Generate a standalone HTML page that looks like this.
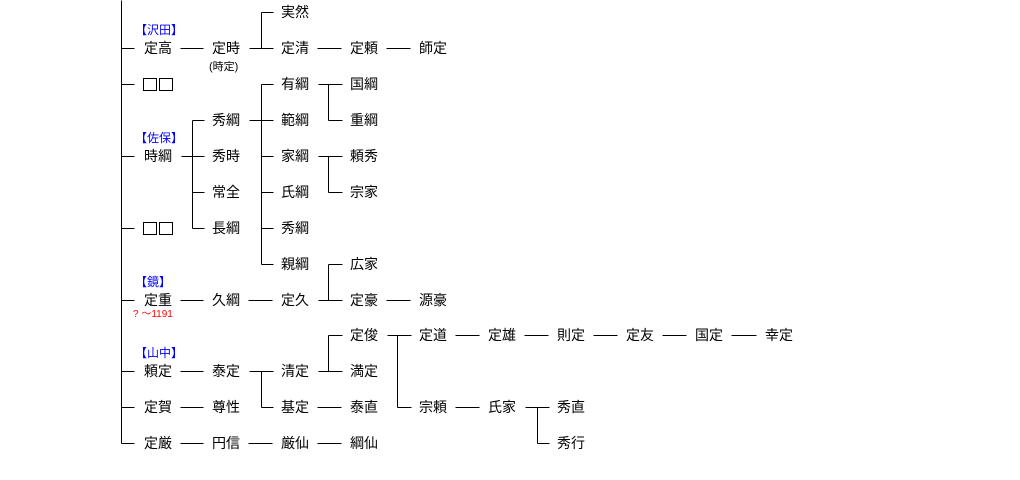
<!DOCTYPE html>
<html><head><meta charset="utf-8"><style>
html,body{margin:0;padding:0;background:#fff;width:1020px;height:480px;overflow:hidden}
svg text{font-family:"Liberation Sans","Noto Sans CJK JP",sans-serif}
</style></head><body>
<svg width="1020" height="480" xmlns="http://www.w3.org/2000/svg">
<g stroke="#000" stroke-width="1" fill="none" shape-rendering="crispEdges" id="lines">
<rect x="143.5" y="78.5" width="13" height="12"/><rect x="159.5" y="78.5" width="13" height="12"/>
<rect x="143.5" y="222.5" width="13" height="12"/><rect x="159.5" y="222.5" width="13" height="12"/>
</g>
<g font-size="14" fill="#000" id="names"></g>
<text x="135" y="34" font-size="12" fill="#0000ff">【沢田】</text>
<text x="135" y="142" font-size="12" fill="#0000ff">【佐保】</text>
<text x="135" y="286" font-size="12" fill="#0000ff">【鏡】</text>
<text x="135" y="357" font-size="12" fill="#0000ff">【山中】</text>
<text x="209" y="70" font-size="11" fill="#000">(時定)</text>
<text x="133" y="317" font-size="10" fill="#ff0000">?  ～1191</text>
<script>
var R=[12,48,84,120,156,192,228,264,300,335,371,407,443];
var C=[144,212,281,350,419,488,557,626,695,765];
var N=[[0,2,'実然'],[1,0,'定高'],[1,1,'定時'],[1,2,'定清'],[1,3,'定頼'],[1,4,'師定'],
[2,2,'有綱'],[2,3,'国綱'],[3,1,'秀綱'],[3,2,'範綱'],[3,3,'重綱'],
[4,0,'時綱'],[4,1,'秀時'],[4,2,'家綱'],[4,3,'頼秀'],[5,1,'常全'],[5,2,'氏綱'],[5,3,'宗家'],
[6,1,'長綱'],[6,2,'秀綱'],[7,2,'親綱'],[7,3,'広家'],
[8,0,'定重'],[8,1,'久綱'],[8,2,'定久'],[8,3,'定豪'],[8,4,'源豪'],
[9,3,'定俊'],[9,4,'定道'],[9,5,'定雄'],[9,6,'則定'],[9,7,'定友'],[9,8,'国定'],[9,9,'幸定'],
[10,0,'頼定'],[10,1,'泰定'],[10,2,'清定'],[10,3,'満定'],
[11,0,'定賀'],[11,1,'尊性'],[11,2,'基定'],[11,3,'泰直'],[11,4,'宗頼'],[11,5,'氏家'],[11,6,'秀直'],
[12,0,'定厳'],[12,1,'円信'],[12,2,'厳仙'],[12,3,'綱仙'],[12,6,'秀行']];
var ns='http://www.w3.org/2000/svg',g=document.getElementById('names'),L=document.getElementById('lines');
N.forEach(function(n){var t=document.createElementNS(ns,'text');t.setAttribute('x',C[n[1]]);t.setAttribute('y',R[n[0]]+5);t.textContent=n[2];g.appendChild(t);});
function ln(x1,y1,x2,y2){var l=document.createElementNS(ns,'line');l.setAttribute('x1',x1+.5);l.setAttribute('y1',y1+.5);l.setAttribute('x2',x2+.5);l.setAttribute('y2',y2+.5);L.appendChild(l);}
var D=[[1,0],[1,2],[1,3],[8,0],[8,1],[8,3],[9,4],[9,5],[9,6],[9,7],[9,8],[10,0],[11,0],[11,2],[11,4],[12,0],[12,1],[12,2]];
D.forEach(function(d){ln(C[d[1]]+36,R[d[0]],C[d[1]+1]-9,R[d[0]]);});
var B=[[1,1,261,0,1],[4,0,192,3,6],[3,1,261,2,7],[2,2,328,2,3],[4,2,328,4,5],[8,2,328,7,8],[10,1,261,10,11],[10,2,328,9,10],[9,3,397,9,11,[9,11]],[11,5,537,11,12]];
B.forEach(function(b){var c=b[1];ln(C[c]+37,R[b[0]],b[2],R[b[0]]);ln(b[2],R[b[3]],b[2],R[b[4]]);
var rows=b[5];if(!rows){rows=[];for(var r=b[3];r<=b[4];r++)rows.push(r);}
rows.forEach(function(r){ln(b[2],R[r],C[c+1]-8,R[r]);});});
ln(121,0,121,443);[1,2,4,6,8,10,11,12].forEach(function(r){ln(121,R[r],134,R[r]);});
</script>
</svg>
</body></html>
